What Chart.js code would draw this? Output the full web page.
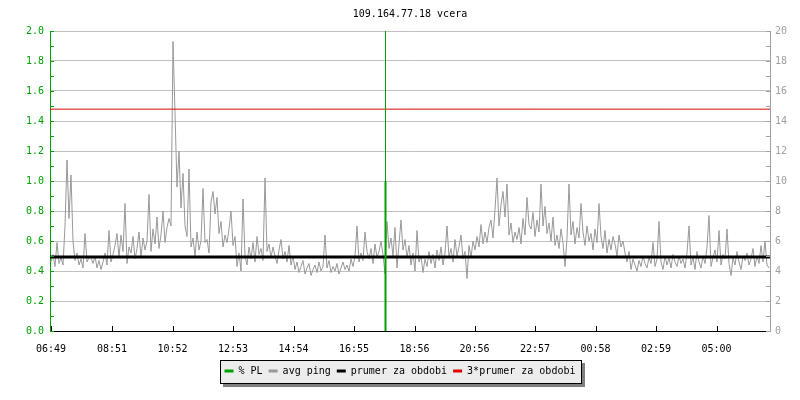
<!DOCTYPE html>
<html><head><meta charset="utf-8">
<script src="https://cdn.jsdelivr.net/npm/chart.js@4/dist/chart.umd.min.js"></script>
<style>html,body{margin:0;padding:0;background:#fff}#c{display:block}</style>
</head><body>
<canvas id="c" width="800" height="400"></canvas>
<script>
const titleText = '109.164.77.18 vcera';
const startTime = '06:49';
const timeLabels = ['06:49','08:51','10:52','12:53','14:54','16:55','18:56','20:56','22:57','00:58','02:59','05:00'];
const seriesNames = ['% PL','avg ping','prumer za obdobi','3*prumer za obdobi'];
const sampleStepMin = 4;           // one avg-ping sample every 4 minutes
const domainMin = -2, domainMax = 1438; // minutes after 06:49
// avg ping [ms], right axis
const avgPing = [
4.6,5.1,4.3,5.9,4.5,4.9,4.4,7.0,11.4,7.5,10.4,6.0,4.7,5.2,4.4,4.8,4.2,6.5,4.6,4.9,
4.9,4.5,5.0,4.2,4.7,4.1,4.6,5.2,4.4,6.7,4.6,5.1,5.7,6.5,4.9,6.4,5.3,8.5,4.5,5.6,
5.2,6.3,4.8,5.5,6.6,4.9,6.2,5.4,6.0,9.1,5.3,6.8,5.8,7.6,5.5,6.4,8.0,5.9,6.9,7.5,
7.0,19.3,14.5,9.6,12.0,8.2,10.5,7.0,6.3,10.8,5.6,6.2,5.0,6.6,5.4,6.0,9.5,5.9,6.1,5.2,
8.6,9.3,7.8,8.9,6.5,7.3,5.6,6.4,5.9,6.8,8.0,5.7,6.3,4.3,5.2,4.0,8.8,5.0,4.4,5.6,
4.8,5.9,4.6,6.3,5.1,5.5,4.7,10.2,5.3,5.8,4.9,5.6,5.0,4.5,5.4,6.1,4.8,5.3,4.6,5.7,
4.4,5.0,4.1,4.6,3.9,4.3,4.7,3.8,4.2,4.5,3.7,4.1,4.4,3.9,4.6,4.0,4.3,6.4,4.2,4.7,
3.9,4.3,4.0,4.5,3.8,4.2,4.6,4.1,4.4,4.0,4.8,4.3,5.0,7.0,4.6,5.2,4.7,6.6,5.3,4.8,
5.5,4.5,5.8,4.9,5.3,6.0,5.1,3.8,7.3,5.5,6.2,5.0,6.9,4.2,5.8,7.4,5.4,6.1,4.9,5.7,
4.4,5.2,4.0,6.7,4.6,5.0,3.9,4.8,4.3,5.3,4.5,5.1,4.2,5.4,4.7,5.6,4.4,5.2,7.0,4.9,
5.5,4.6,6.1,5.0,5.6,6.4,4.8,5.3,3.5,5.7,4.9,6.0,5.4,6.3,5.6,7.1,5.8,6.6,5.9,6.9,
7.4,6.2,8.1,10.2,7.0,8.4,9.3,7.6,9.8,6.4,7.2,5.9,6.6,6.1,6.9,5.8,7.5,6.4,8.9,7.1,
6.8,7.9,6.3,7.4,6.6,9.8,7.0,8.3,6.5,7.2,6.0,7.6,5.7,6.4,5.5,6.8,5.9,4.3,6.2,9.8,
6.4,7.3,5.8,6.9,6.2,8.5,6.6,5.7,7.0,6.0,6.5,5.4,6.8,5.9,8.5,6.3,5.5,6.7,5.2,6.1,
5.4,6.3,5.8,5.0,6.4,5.6,6.0,5.2,4.6,5.3,4.1,4.8,4.4,4.0,4.7,4.3,5.0,4.5,4.2,4.9,
4.5,5.9,4.3,4.8,7.3,4.6,4.1,5.0,4.4,4.9,4.2,5.1,4.6,4.3,5.0,4.5,4.8,4.2,5.2,7.0,
4.4,4.9,4.1,5.3,4.6,4.2,5.0,4.5,5.6,7.7,4.3,4.9,5.4,4.6,6.7,4.4,5.1,4.8,6.8,4.5,
3.7,4.9,4.4,5.3,4.6,4.1,5.0,4.7,5.2,4.4,4.8,5.5,4.3,5.0,4.5,5.7,4.6,6.0,4.4,4.2
];
// packet loss events [minutes after start], value [%], marker top [%]
const plMinutes = [669];
const plPercent = [1.0];
const plMarkTop = [2.0];
const periodAvg = 4.93;    // ms
const periodAvg3 = 14.79;  // ms

const toMin = s => { const [h, m] = s.split(':').map(Number); return h * 60 + m; };
const tickMinutes = timeLabels.map(t => ((toMin(t) - toMin(startTime)) + 1440) % 1440);
const FONT = {family: '"DejaVu Sans Mono", monospace', size: 10, weight: 'normal'};
const GREEN = '#00a000';

const plData = [];
plMinutes.forEach((m, k) => { plData.push({x: m, y: 0}, {x: m, y: plPercent[k]}, {x: m, y: plMarkTop[k]}); });

const frame = {
  id: 'frame',
  beforeDraw(chart) {
    const ctx = chart.ctx;
    ctx.save();
    ctx.fillStyle = '#fff';
    ctx.fillRect(0, 0, chart.width, chart.height);
    const hb = chart.legend && chart.legend.legendHitBoxes;
    if (hb && hb.length) {
      const l = Math.round(hb[0].left) - 5;
      const last = hb[hb.length - 1];
      const r = Math.round(last.left + last.width) + 7;
      const t = Math.round(hb[0].top) - 6;
      const h = 24;
      ctx.fillStyle = '#808080';
      ctx.fillRect(l + 3, t + 3, r - l, h);
      ctx.fillStyle = '#ececec';
      ctx.fillRect(l, t, r - l, h);
      ctx.strokeStyle = '#000';
      ctx.lineWidth = 1;
      ctx.strokeRect(l + 0.5, t + 0.5, r - l - 1, h - 1);
    }
    ctx.restore();
  },
  afterDraw(chart) {
    const {ctx, chartArea: a, scales} = chart;
    ctx.save();
    ctx.lineWidth = 1;
    ctx.strokeStyle = GREEN;
    for (let v = 0; v <= 20; v++) {
      const y = Math.round(scales.y.getPixelForValue(v / 10)) + 0.5;
      ctx.beginPath(); ctx.moveTo(a.left, y); ctx.lineTo(a.left + 4, y); ctx.stroke();
    }
    ctx.strokeStyle = '#a0a0a0';
    for (let v = 0; v <= 20; v++) {
      const y = Math.round(scales.y2.getPixelForValue(v)) + 0.5;
      ctx.beginPath(); ctx.moveTo(a.right - 4, y); ctx.lineTo(a.right, y); ctx.stroke();
    }
    ctx.strokeStyle = '#000';
    tickMinutes.forEach(m => {
      const x = Math.round(scales.x.getPixelForValue(m)) + 0.5;
      ctx.beginPath(); ctx.moveTo(x, a.bottom); ctx.lineTo(x, a.bottom - 5); ctx.stroke();
    });
    ctx.restore();
  }
};

new Chart(document.getElementById('c'), {
  type: 'line',
  data: {
    datasets: [
      {label: seriesNames[0], yAxisID: 'y', data: plData, borderColor: GREEN, backgroundColor: GREEN,
       borderWidth: 1, pointRadius: 0, order: 0,
       segment: {borderWidth: c => (c.p0DataIndex % 3 === 0 ? 2 : 1)}},
      {label: seriesNames[1], yAxisID: 'y2', data: avgPing.map((v, i) => ({x: i * sampleStepMin, y: v})),
       borderColor: '#999999', backgroundColor: '#999999', borderWidth: 1, pointRadius: 0, order: 3},
      {label: seriesNames[2], yAxisID: 'y2', data: [{x: domainMin, y: periodAvg}, {x: domainMax, y: periodAvg}],
       borderColor: '#000000', backgroundColor: '#000000', borderWidth: 3, pointRadius: 0, order: 1},
      {label: seriesNames[3], yAxisID: 'y2', data: [{x: domainMin, y: periodAvg3}, {x: domainMax, y: periodAvg3}],
       borderColor: '#e00000', backgroundColor: '#e00000', borderWidth: 1, pointRadius: 0, order: 2}
    ]
  },
  options: {
    responsive: false,
    animation: false,
    devicePixelRatio: 1,
    layout: {padding: {bottom: 14}},
    plugins: {
      tooltip: {enabled: false},
      title: {display: true, text: titleText, fullSize: false, color: '#000', font: FONT,
              padding: {top: 8, bottom: 11}},
      legend: {
        position: 'bottom',
        labels: {
          boxWidth: 9, boxHeight: 3, padding: 6, color: '#000', font: FONT,
          generateLabels: chart => chart.data.datasets.map((d, i) => ({
            text: d.label, fillStyle: d.borderColor, strokeStyle: d.borderColor, lineWidth: 0,
            fontColor: '#000', datasetIndex: i, hidden: false
          }))
        }
      }
    },
    scales: {
      x: {
        type: 'linear', position: 'bottom', min: domainMin, max: domainMax,
        grid: {display: false},
        border: {display: true, color: '#000', width: 1},
        ticks: {color: '#000', font: FONT, padding: 4, autoSkip: false, maxRotation: 0,
                callback: v => { const k = tickMinutes.indexOf(v); return k >= 0 ? timeLabels[k] : ''; }},
        afterBuildTicks: s => { s.ticks = tickMinutes.map(v => ({value: v})); },
        afterFit: s => { s.height = 29; }
      },
      y: {
        type: 'linear', position: 'left', min: 0, max: 2,
        ticks: {stepSize: 0.2, color: GREEN, font: FONT, padding: 6, callback: v => Number(v).toFixed(1)},
        grid: {drawTicks: false, lineWidth: 1,
               color: c => (c.tick && Math.abs(c.tick.value) < 1e-9 ? 'rgba(0,0,0,0)' : '#c0c0c0')},
        border: {display: true, color: GREEN, width: 1},
        afterFit: s => { s.width = 50; }
      },
      y2: {
        type: 'linear', position: 'right', min: 0, max: 20,
        ticks: {stepSize: 2, color: '#a0a0a0', font: FONT, padding: 5},
        grid: {display: false, drawTicks: false},
        border: {display: true, color: '#a0a0a0', width: 1},
        afterFit: s => { s.width = 30; }
      }
    }
  },
  plugins: [frame]
});
</script>
</body></html>
